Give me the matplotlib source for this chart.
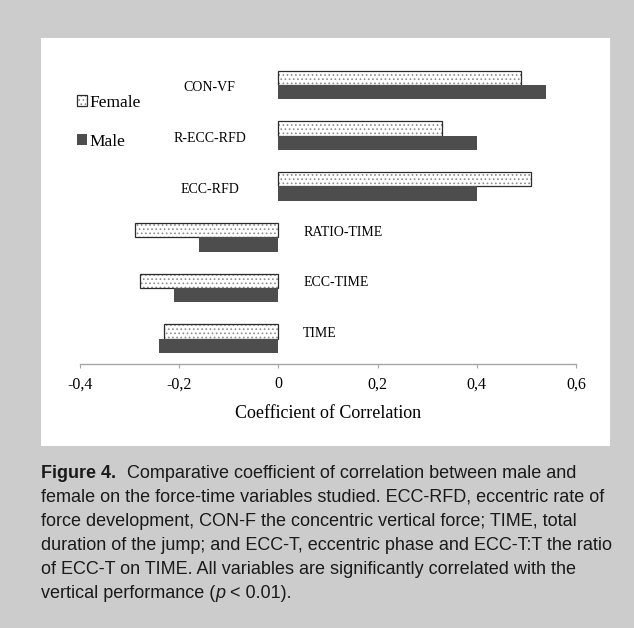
import numpy as np
import matplotlib
matplotlib.use('Agg')
import matplotlib.pyplot as plt
from matplotlib.patches import Rectangle
from matplotlib.legend_handler import HandlerTuple

# correlation values
categories = ['CON-VF', 'R-ECC-RFD', 'ECC-RFD', 'RATIO-TIME', 'ECC-TIME', 'TIME']
female = [0.49, 0.33, 0.51, -0.29, -0.28, -0.23]
male = [0.54, 0.40, 0.40, -0.16, -0.21, -0.24]
xticks = [-0.4, -0.2, 0, 0.2, 0.4, 0.6]
xtick_labels = ['-0,4', '-0,2', '0', '0,2', '0,4', '0,6']

caption_lines = [
    'female on the force-time variables studied. ECC-RFD, eccentric rate of',
    'force development, CON-F the concentric vertical force; TIME, total',
    'duration of the jump; and ECC-T, eccentric phase and ECC-T:T the ratio',
    'of ECC-T on TIME. All variables are significantly correlated with the',
]

plt.rcParams['font.family'] = ['Liberation Serif', 'DejaVu Serif']
plt.rcParams['hatch.linewidth'] = 0.7

W, H = 634, 628
fig = plt.figure(figsize=(W / 100, H / 100), dpi=100, facecolor='#cccccc')

# white panel behind the chart
panel = Rectangle((41 / W, 1 - 446 / H), 569 / W, 408 / H, transform=fig.transFigure,
                  facecolor='white', edgecolor='none', zorder=-1)
fig.patches.append(panel)

ax = fig.add_axes([80 / W, 1 - 364 / H, 496 / W, (364 - 59.7) / H])
ax.set_facecolor('none')

y = np.arange(len(categories))
h = 0.283
fem_fill = ax.barh(y - h / 2, female, height=h, color='white', edgecolor='#8c8c8c',
                   hatch='....', linewidth=0)
fem_edge = ax.barh(y - h / 2, female, height=h, fill=False, edgecolor='#2b2b2b', linewidth=0.9)
male_bars = ax.barh(y + h / 2, male, height=h, color='#4d4d4d', linewidth=0)

ax.set_ylim(len(categories) - 0.5, -0.5)
ax.set_xlim(-0.4, 0.6)
ax.set_xticks(xticks, xtick_labels)
ax.set_yticks([])
for s in ['top', 'right', 'left']:
    ax.spines[s].set_visible(False)
ax.spines['bottom'].set_color('#a6a6a6')
ax.spines['bottom'].set_linewidth(1)
ax.tick_params(axis='x', length=3, width=0.8, color='#a6a6a6', pad=6, labelsize=11.5)
ax.set_xlabel('Coefficient of Correlation', fontsize=13, labelpad=9)

for i, (c, f) in enumerate(zip(categories, female)):
    if f > 0:
        ax.text(-0.139, i + 0.05, c, ha='center', va='center', fontsize=10)
    else:
        ax.text(0.05, i - 0.1, c, ha='left', va='center', fontsize=10)

ax.legend(handles=[(fem_fill, fem_edge), male_bars], labels=['Female', 'Male'],
          handler_map={tuple: HandlerTuple(ndivide=1, pad=0)},
          loc='upper left', bbox_to_anchor=(77 / W, 1 - 95 / H), bbox_transform=fig.transFigure,
          frameon=False, handlelength=0.6, handleheight=0.6, handletextpad=0.1,
          labelspacing=1.3, borderpad=0, borderaxespad=0, prop={'size': 12.5})

# caption
cap = dict(family='Liberation Sans', fontsize=13, color='#1a1a1a', va='baseline')
t1 = fig.text(41 / W, 1 - 478 / H, 'Figure 4.', weight='bold', **cap)
ax.annotate('Comparative coefficient of correlation between male and', xy=(1, 0), xycoords=t1,
            xytext=(8, 0), textcoords='offset points', va='bottom', ha='left',
            family='Liberation Sans', fontsize=13, color='#1a1a1a', annotation_clip=False)
for k, line in enumerate(caption_lines):
    fig.text(41 / W, 1 - (502 + 24 * k) / H, line, **cap)
t6 = fig.text(41 / W, 1 - 598 / H, 'vertical performance (', **cap)
t7 = ax.annotate('p', xy=(1, 0), xycoords=t6, va='bottom', ha='left', style='italic',
                 family='Liberation Sans', fontsize=13, color='#1a1a1a', annotation_clip=False)
ax.annotate(' < 0.01).', xy=(1, 0), xycoords=t7, va='bottom', ha='left',
            family='Liberation Sans', fontsize=13, color='#1a1a1a', annotation_clip=False)

fig.savefig('out.png', dpi=100, facecolor=fig.get_facecolor())
